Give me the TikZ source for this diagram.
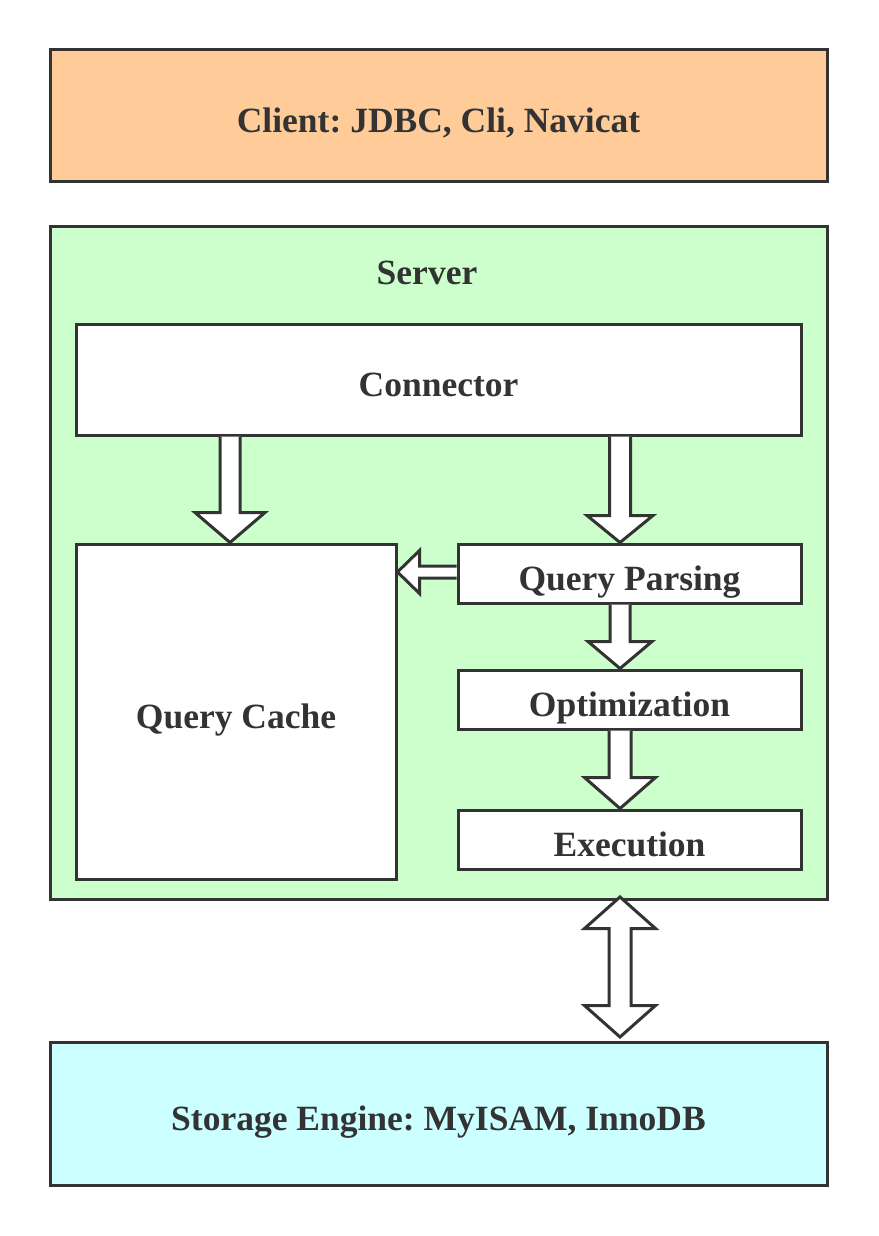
\documentclass[tikz,border=0pt]{standalone}
\usepackage{fontspec}
\setmainfont{Liberation Serif}
\usetikzlibrary{calc}
\frenchspacing
\definecolor{ln}{HTML}{333333}
\definecolor{clientfill}{HTML}{FFCC99}
\definecolor{serverfill}{HTML}{CCFFCC}
\definecolor{storefill}{HTML}{CCFFFF}
% #1 start, #2 tip, #3 shaft half width, #4 head half width, #5 head length
\newcommand{\downblock}[5]{%
  \draw[blk] let \p1=(#1), \p2=(#2) in
    (\x2-#3pt,\y1) -- (\x2-#3pt,\y2+#5pt) -- (\x2-#4pt,\y2+#5pt) -- (\x2,\y2)
    -- (\x2+#4pt,\y2+#5pt) -- (\x2+#3pt,\y2+#5pt) -- (\x2+#3pt,\y1);}
\newcommand{\leftblock}[5]{%
  \draw[blk] let \p1=(#1), \p2=(#2) in
    (\x1,\y2+#3pt) -- (\x2+#5pt,\y2+#3pt) -- (\x2+#5pt,\y2+#4pt) -- (\x2,\y2)
    -- (\x2+#5pt,\y2-#4pt) -- (\x2+#5pt,\y2-#3pt) -- (\x1,\y2-#3pt);}
% #1 top tip, #2 bottom tip
\newcommand{\dblblock}[5]{%
  \draw[blk] let \p1=(#1), \p2=(#2) in
    (\x1,\y1) -- (\x1+#4pt,\y1-#5pt) -- (\x1+#3pt,\y1-#5pt) -- (\x1+#3pt,\y2+#5pt)
    -- (\x1+#4pt,\y2+#5pt) -- (\x1,\y2) -- (\x1-#4pt,\y2+#5pt) -- (\x1-#3pt,\y2+#5pt)
    -- (\x1-#3pt,\y1-#5pt) -- (\x1-#4pt,\y1-#5pt) -- cycle;}
\begin{document}
\begin{tikzpicture}[x=1pt,y=-1pt,
  lbl/.style={font=\fontsize{35.5}{40}\selectfont\bfseries, text=ln, inner sep=0pt},
  box/.style={lbl, draw=ln, line width=3pt, fill=white, text height=33pt, text depth=0pt},
  blk/.style={draw=ln, fill=white, line width=3pt, line join=miter, miter limit=10}]
\path[use as bounding box, fill=white] (0,0) rectangle (878,1236);

\node[box, fill=clientfill, minimum width=777pt, minimum height=131pt] (client) at (438.5,115.5) {Client: JDBC, Cli, Navicat};
\node[box, fill=serverfill, minimum width=777pt, minimum height=673pt] (server) at (438.5,562.5) {};
\node[lbl, anchor=base] (serverlabel) at (427,284) {Server};
\node[box, minimum width=725pt, minimum height=111pt] (connector) at (438.5,379.5) {Connector};
\node[box, minimum width=320pt, minimum height=335pt] (qc) at (236,711.5) {Query Cache};
\node[box, minimum width=343pt, minimum height=59pt] (parse) at (629.5,573.5) {Query Parsing};
\node[box, minimum width=343pt, minimum height=59pt] (opt) at (629.5,699.5) {Optimization};
\node[box, minimum width=343pt, minimum height=59pt] (exec) at (629.5,839.5) {Execution};
\node[box, fill=storefill, minimum width=777pt, minimum height=143pt] (store) at (438.5,1113.5) {Storage Engine: MyISAM, InnoDB};

\downblock{connector.south -| qc.north}{[xshift=-6pt]qc.north}{10}{35}{30}
\downblock{connector.south}{[xshift=181.5pt]connector.south |- qc.north}{10.5}{33}{27}
\downblock{[xshift=-9.5pt]parse.south}{[xshift=-9.5pt]opt.north}{10}{32}{27}
\downblock{[xshift=-9.5pt]opt.south}{[xshift=-9.5pt]exec.north}{11}{35.5}{31}
\leftblock{parse.west}{[yshift=1.5pt]qc.east |- parse.west}{6}{21.5}{22}
\dblblock{[xshift=-9.5pt,yshift=3.5pt]exec.south |- server.south}{[xshift=-9.5pt,yshift=3.5pt]exec.south |- store.north}{11}{35.5}{31.5}
\end{tikzpicture}
\end{document}
